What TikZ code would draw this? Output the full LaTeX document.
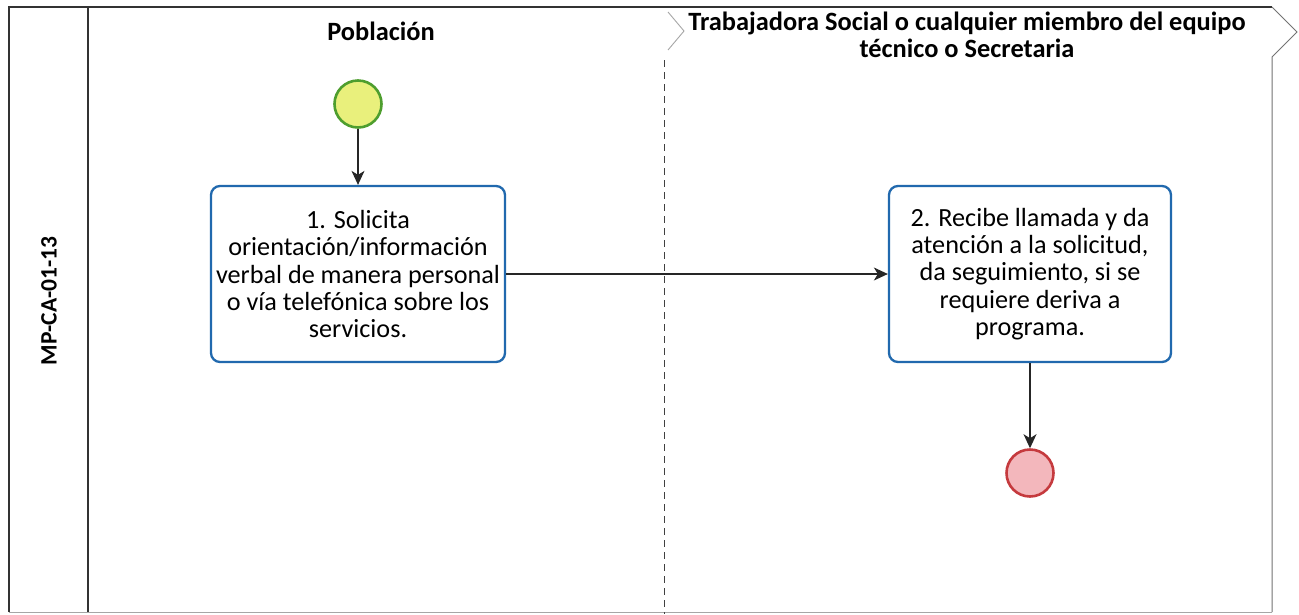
\documentclass[tikz,border=0pt]{standalone}
\usepackage{fontspec}
\setmainfont{Carlito}
\usetikzlibrary{arrows.meta}
\definecolor{taskblue}{HTML}{2169AE}
\definecolor{startgreen}{HTML}{4E9E2E}
\definecolor{startyellow}{HTML}{E9F07C}
\definecolor{endred}{HTML}{C53A3E}
\definecolor{endpink}{HTML}{F3B7BC}
\begin{document}
\begin{tikzpicture}[x=1pt,y=-1pt,
  task/.style={draw=taskblue, line width=2.3pt, rounded corners=9pt, fill=white,
    minimum height=176pt, align=center, inner sep=0pt,
    font=\fontsize{26.2}{27.3}\selectfont},
  flow/.style={draw=black!85, line width=1.1pt, -{Stealth[length=14pt,width=13pt,inset=4pt]}},
  frame/.style={draw=black!80, line width=1.3pt},
  lightframe/.style={draw=black!55, line width=1pt},
  lanetitle/.style={font=\fontsize{26.4}{27}\selectfont\bfseries, align=center},
  event/.style={circle, line width=2.6pt, minimum size=47pt, inner sep=0pt}]
\useasboundingbox (0,0) rectangle (1299,614);
\fill[white] (0,0) rectangle (1299,614);
% pool frame
\draw[frame] (9,612) -- (9,7) -- (1272,7);
\draw[lightframe] (1272,7) -- (1297,32) -- (1272,57) -- (1272,612);
\draw[frame] (88,7) -- (88,612);
\draw[draw=black!35, line width=0.8pt] (9,612) -- (1272,612);
% lane divider
\draw[black!75, line width=0.9pt, dash pattern=on 7pt off 5pt] (664,60) -- (664,614);
\draw[black!35, line width=0.9pt] (668,12) -- (684,31) -- (668,50);
% labels
\node[font=\fontsize{23.5}{27}\selectfont\bfseries, rotate=90] (pool) at (49,301) {MP-CA-01-13};
\node[lanetitle] (lane1) at (381,31) {Población};
\node[lanetitle] (lane2) at (967,35) {Trabajadora Social o cualquier miembro del equipo\\técnico o Secretaria};
% events and tasks
\node[event, draw=startgreen, fill=startyellow] (start) at (358,104) {};
\node[task, minimum width=294pt] (t1) at (358,274) {1. Solicita\\orientación/información\\verbal de manera personal\\o vía telefónica sobre los\\servicios.};
\node[task, minimum width=282pt] (t2) at (1030,274) {2. Recibe llamada y da\\atención a la solicitud,\\da seguimiento, si se\\requiere deriva a\\programa.};
\node[event, draw=endred, fill=endpink] (end) at (1030,473) {};
% flows
\draw[flow] (start) -- (t1);
\draw[flow] (t1) -- (t2);
\draw[flow] (t2) -- (end);
\end{tikzpicture}
\end{document}
